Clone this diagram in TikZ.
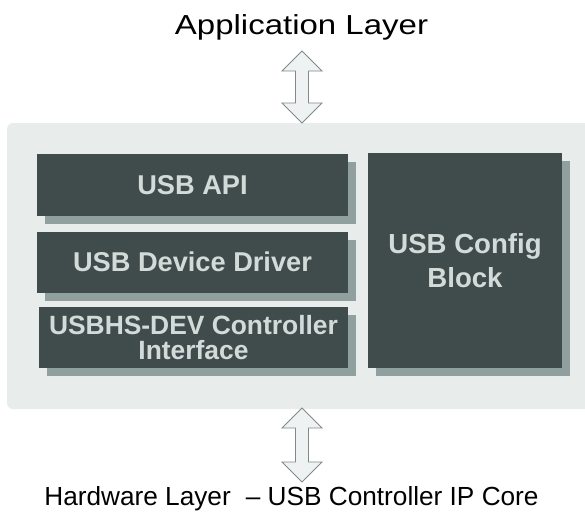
\documentclass[tikz,border=0pt]{standalone}
\usepackage{fontspec}
\setmainfont{Liberation Sans}
\definecolor{panelc}{HTML}{E8EDEC}
\definecolor{panelline}{HTML}{DDE4E2}
\definecolor{boxc}{HTML}{404C4C}
\definecolor{shadowc}{HTML}{8FA09F}
\definecolor{boxtext}{HTML}{D3DBD8}
\definecolor{arrowfill}{HTML}{EEF2F2}
\definecolor{arrowline}{HTML}{7F8A89}
\begin{document}
\begin{tikzpicture}[x=1pt,y=-1pt,
  layerbox/.style={rectangle, inner sep=0pt, fill=boxc, text=boxtext, align=center,
    font=\fontsize{27.2}{24}\selectfont\bfseries,
    preaction={fill=shadowc, transform canvas={shift={(8pt,-8pt)}}}},
  bigarrow/.style={fill=arrowfill, draw=arrowline, line width=0.9pt, line join=miter},
  labeltext/.style={inner sep=0pt, anchor=base, text=black}]
\useasboundingbox (0,0) rectangle (585,512);
\clip (0,0) rectangle (585,512);
% panel
\fill[panelc, rounded corners=6pt] (7,123) rectangle (600,409);
\node[inner sep=0pt] (panel) at (296,266) {};
% boxes
\node[layerbox, minimum width=311pt, minimum height=62pt] (api) at (192.5,185) {USB API};
\node[layerbox, minimum width=311pt, minimum height=61pt] (drv) at (192.5,262) {USB Device Driver};
\node[layerbox, minimum width=309pt, minimum height=61pt, font=\fontsize{26.4}{25}\selectfont\bfseries] (ctrl) at (193.5,337.5) {USBHS-DEV Controller\\Interface};
\node[layerbox, minimum width=194pt, minimum height=215pt,
  font=\fontsize{27.6}{34}\selectfont\bfseries] (cfg) at (465,260.5) {USB Config\\Block};
% labels
\node[labeltext] (app) at (301.5,34) {\scalebox{1.2}[1]{\fontsize{27.5}{30}\selectfont Application Layer}};
\node[labeltext] (hw) at (291.5,505) {\fontsize{26.2}{30}\selectfont Hardware Layer\hspace{0.3em} – USB Controller IP Core};
% arrows
\coordinate (a1) at (302,51);
\coordinate (a2) at (302,123);
\coordinate (b1) at (302,408);
\coordinate (b2) at (302,482);
\draw[bigarrow] (a1) -- ++(20,20) -- ++(-13.5,0) -- ++(0,32) -- ++(13.5,0) -- (a2)
  -- ++(-20,-20) -- ++(13.5,0) -- ++(0,-32) -- ++(-13.5,0) -- cycle;
\draw[bigarrow] (b1) -- ++(20,20) -- ++(-13.5,0) -- ++(0,34) -- ++(13.5,0) -- (b2)
  -- ++(-20,-20) -- ++(13.5,0) -- ++(0,-34) -- ++(-13.5,0) -- cycle;
\end{tikzpicture}
\end{document}
